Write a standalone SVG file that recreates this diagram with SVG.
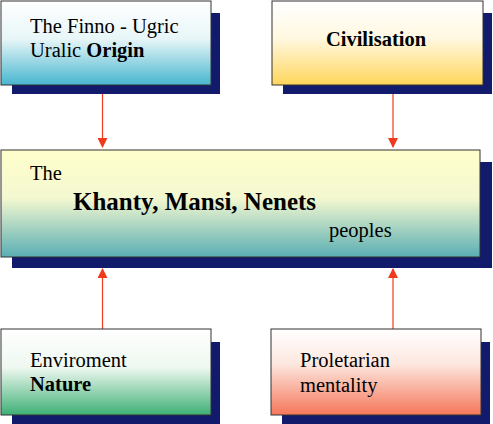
<svg xmlns="http://www.w3.org/2000/svg" width="493" height="424" viewBox="0 0 493 424">
<defs>
<linearGradient id="gBlue" x1="0" y1="0" x2="0" y2="1"><stop offset="0" stop-color="#ffffff"/><stop offset="0.45" stop-color="#e8f6f8"/><stop offset="1" stop-color="#48b6cf"/></linearGradient>
<linearGradient id="gYellow" x1="0" y1="0" x2="0" y2="1"><stop offset="0" stop-color="#ffffff"/><stop offset="0.45" stop-color="#fff8e0"/><stop offset="1" stop-color="#ffd65a"/></linearGradient>
<linearGradient id="gMid" x1="0" y1="0" x2="0" y2="1"><stop offset="0" stop-color="#ffffcc"/><stop offset="0.45" stop-color="#f4f8d0"/><stop offset="1" stop-color="#5aaeb3"/></linearGradient>
<linearGradient id="gGreen" x1="0" y1="0" x2="0" y2="1"><stop offset="0" stop-color="#ffffff"/><stop offset="0.45" stop-color="#eef8f0"/><stop offset="1" stop-color="#3daf75"/></linearGradient>
<linearGradient id="gRed" x1="0" y1="0" x2="0" y2="1"><stop offset="0" stop-color="#ffffff"/><stop offset="0.4" stop-color="#fde8e0"/><stop offset="1" stop-color="#f5775a"/></linearGradient>
<marker id="arr" viewBox="0 0 10 10" refX="9" refY="5" markerWidth="10" markerHeight="10" markerUnits="userSpaceOnUse" orient="auto"><path d="M0,0 L10,5 L0,10 z" fill="#f03a1c"/></marker>
<style>
.shadow{fill:#111a6b}
.box{stroke:#333;stroke-width:1}
.t{font-family:"Liberation Serif","Times New Roman",serif;font-size:20.5px;fill:#000}
.b{font-weight:bold}
.big{font-size:25px}
.conn{stroke:#f03a1c;stroke-width:1.2;fill:none}
</style>
</defs>
<rect width="493" height="424" fill="#fff"/>
<g id="connectors">
<line class="conn" x1="102.5" y1="94" x2="102.5" y2="147" marker-end="url(#arr)"/>
<line class="conn" x1="393" y1="94" x2="393" y2="147" marker-end="url(#arr)"/>
<line class="conn" x1="102.5" y1="329" x2="102.5" y2="269" marker-end="url(#arr)"/>
<line class="conn" x1="393" y1="329" x2="393" y2="269" marker-end="url(#arr)"/>
</g>
<g id="origin">
<rect class="shadow" x="12" y="13" width="208" height="81"/>
<rect class="box" x="1" y="1" width="210" height="84" fill="url(#gBlue)"/>
<text class="t" x="30" y="33">The Finno - Ugric</text>
<text class="t" x="30" y="57">Uralic <tspan class="b">Origin</tspan></text>
</g>
<g id="civilisation">
<rect class="shadow" x="283" y="13" width="209" height="81"/>
<rect class="box" x="272" y="1" width="211" height="84" fill="url(#gYellow)"/>
<text class="t b" x="376" y="46" text-anchor="middle">Civilisation</text>
</g>
<g id="peoples">
<rect class="shadow" x="12" y="162" width="480" height="106"/>
<rect class="box" x="1" y="150" width="479" height="107" fill="url(#gMid)"/>
<text class="t" x="30" y="180">The</text>
<text class="t b big" x="73" y="210">Khanty, Mansi, Nenets</text>
<text class="t" x="329" y="237">peoples</text>
</g>
<g id="nature">
<rect class="shadow" x="12" y="342" width="208" height="82"/>
<rect class="box" x="1" y="329" width="210" height="86" fill="url(#gGreen)"/>
<text class="t" x="30" y="367">Enviroment</text>
<text class="t b" x="30" y="391">Nature</text>
</g>
<g id="mentality">
<rect class="shadow" x="282" y="342" width="208" height="82"/>
<rect class="box" x="271" y="329" width="210" height="86" fill="url(#gRed)"/>
<text class="t" x="300" y="367">Proletarian</text>
<text class="t" x="300" y="392">mentality</text>
</g>
</svg>
